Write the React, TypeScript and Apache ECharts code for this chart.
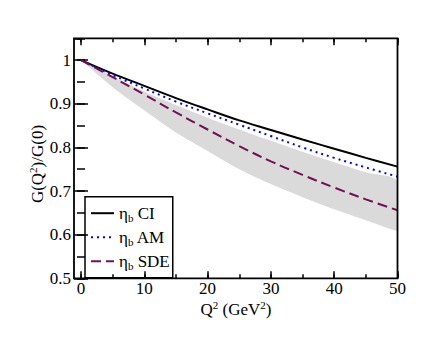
import React, { useEffect, useRef } from 'react';
import * as echarts from 'echarts';

const q2 = [0, 5, 10, 15, 20, 25, 30, 35, 40, 45, 50];
const ciValues = [1, 0.969, 0.941, 0.913, 0.887, 0.862, 0.84, 0.818, 0.797, 0.776, 0.756];
const amValues = [1, 0.966, 0.935, 0.905, 0.878, 0.852, 0.826, 0.8, 0.776, 0.754, 0.733];
const sdeValues = [1, 0.961, 0.921, 0.88, 0.841, 0.803, 0.768, 0.737, 0.708, 0.681, 0.656];
const bandUpper = [1, 0.963, 0.928, 0.897, 0.868, 0.841, 0.815, 0.79, 0.766, 0.743, 0.722];
const bandLower = [1, 0.938, 0.885, 0.834, 0.792, 0.75, 0.716, 0.686, 0.658, 0.633, 0.609];
const legendNames = ['CI', 'AM', 'SDE'];

const FONT = 'Liberation Serif';

export default function App() {
  const ref = useRef<HTMLDivElement>(null);
  useEffect(() => {
    if (!ref.current) return;
    const chart = echarts.init(ref.current, null, { renderer: 'svg' });
    const tickStyle = { color: '#000', width: 1.5 };
    const xBase = { type: 'value', min: 0, max: 50, splitLine: { show: false }, axisLine: { show: false } };
    const yBase = { type: 'value', min: 0.5, max: 1.05, splitLine: { show: false }, axisLine: { show: false } };
    const pts = (vals: number[]) => q2.map((x, i) => [x, vals[i]]);
    const option: any = {
      animation: false,
      grid: { left: 81, right: 42.5, top: 38.3, bottom: 61.7, containLabel: false },
      xAxis: [
        { ...xBase, position: 'bottom', interval: 10, axisTick: { inside: true, length: 7, lineStyle: tickStyle },
          axisLabel: { fontSize: 17, fontFamily: FONT, color: '#000', margin: 2 } },
        { ...xBase, position: 'bottom', interval: 5, axisTick: { inside: true, length: 4, lineStyle: tickStyle }, axisLabel: { show: false } },
        { ...xBase, position: 'top', interval: 10, axisTick: { inside: true, length: 7, lineStyle: tickStyle }, axisLabel: { show: false } },
        { ...xBase, position: 'top', interval: 5, axisTick: { inside: true, length: 4, lineStyle: tickStyle }, axisLabel: { show: false } },
      ],
      yAxis: [
        { ...yBase, position: 'left', offset: 7, interval: 0.1, axisTick: { inside: true, length: 7, lineStyle: tickStyle },
          axisLabel: { fontSize: 17, fontFamily: FONT, color: '#000', margin: 3, showMaxLabel: false,
            formatter: (v: number) => (v > 1.01 ? '' : String(Math.round(v * 10) / 10)) } },
        { ...yBase, position: 'left', offset: 7, interval: 0.05, axisTick: { inside: true, length: 4, lineStyle: tickStyle }, axisLabel: { show: false } },
        { ...yBase, position: 'right', interval: 0.1, axisTick: { inside: true, length: 7, lineStyle: tickStyle }, axisLabel: { show: false } },
        { ...yBase, position: 'right', interval: 0.05, axisTick: { inside: true, length: 4, lineStyle: tickStyle }, axisLabel: { show: false } },
      ],
      legend: {
        data: legendNames,
        orient: 'vertical',
        left: 85,
        top: 196.7,
        padding: [6, 3, 6, 5],
        borderColor: '#000',
        borderWidth: 1.5,
        itemWidth: 23,
        itemHeight: 14,
        itemGap: 3,
        selectedMode: false,
        itemStyle: { opacity: 0 },
        formatter: (name: string) => `{g|η}{s|b}{t| ${name}}`,
        textStyle: {
          color: '#000',
          fontFamily: FONT,
          fontSize: 17,
          rich: {
            g: { fontSize: 17, fontFamily: FONT, color: '#000', lineHeight: 16 },
            s: { fontSize: 11, fontFamily: FONT, color: '#000', lineHeight: 16, padding: [10, 0, 0, 0] },
            t: { fontSize: 17, fontFamily: FONT, color: '#000', lineHeight: 16 },
          },
        },
      },
      graphic: [
        { type: 'rect', shape: { x: 74, y: 38.3, width: 323.5, height: 240 }, style: { fill: 'none', stroke: '#000', lineWidth: 1.8 }, z: 10, silent: true },
        {
          type: 'text', x: 236, y: 309,
          style: {
            text: '{n|Q}{p|2}{n| (GeV}{p|2}{n|)}', align: 'center', verticalAlign: 'middle',
            rich: {
              n: { fontSize: 17, fontFamily: FONT, fill: '#000', lineHeight: 20 },
              p: { fontSize: 11, fontFamily: FONT, fill: '#000', lineHeight: 11, verticalAlign: 'top' },
            },
          },
        },
        {
          type: 'text', x: 37, y: 164, rotation: Math.PI / 2,
          style: {
            text: '{n|G(Q}{p|2}{n|)/G(0)}', align: 'center', verticalAlign: 'middle',
            rich: {
              n: { fontSize: 17, fontFamily: FONT, fill: '#000', lineHeight: 20 },
              p: { fontSize: 11, fontFamily: FONT, fill: '#000', lineHeight: 11, verticalAlign: 'top' },
            },
          },
        },
      ],
      series: [
        {
          name: 'band', type: 'custom', coordinateSystem: 'cartesian2d', xAxisIndex: 0, yAxisIndex: 0,
          data: q2.map((x, i) => [x, bandLower[i], bandUpper[i]]),
          encode: { x: 0, y: [1, 2] },
          silent: true, z: 1,
          renderItem: (params: any, api: any) => {
            if (params.dataIndex !== 0) return null;
            const up = q2.map((x, i) => api.coord([x, bandUpper[i]]));
            const lo = q2.map((x, i) => api.coord([x, bandLower[i]])).reverse();
            const all = up.concat(lo);
            const xs = all.map((p: number[]) => p[0]);
            const ys = all.map((p: number[]) => p[1]);
            return {
              type: 'polygon',
              shape: {
                points: all,
                smooth: 0.3,
                smoothConstraint: [[Math.min(...xs), Math.min(...ys)], [Math.max(...xs), Math.max(...ys)]],
              },
              style: { fill: '#dadada', stroke: 'none' },
            };
          },
        },
        { name: 'CI', type: 'line', data: pts(ciValues), symbol: 'none', smooth: 0.4, color: '#000',
          lineStyle: { color: '#000', width: 2, type: 'solid' }, z: 3 },
        { name: 'AM', type: 'line', data: pts(amValues), symbol: 'none', smooth: 0.4, color: '#0000ff',
          lineStyle: { color: '#0000ff', width: 2, type: [2, 4] }, z: 3 },
        { name: 'SDE', type: 'line', data: pts(sdeValues), symbol: 'none', smooth: 0.4, color: '#74104e',
          lineStyle: { color: '#74104e', width: 2, type: [10, 5] }, z: 3 },
      ],
    };
    chart.setOption(option);
    return () => chart.dispose();
  }, []);
  return <div ref={ref} style={{ position: 'absolute', left: 0, top: 0, width: 440, height: 340 }} />;
}
